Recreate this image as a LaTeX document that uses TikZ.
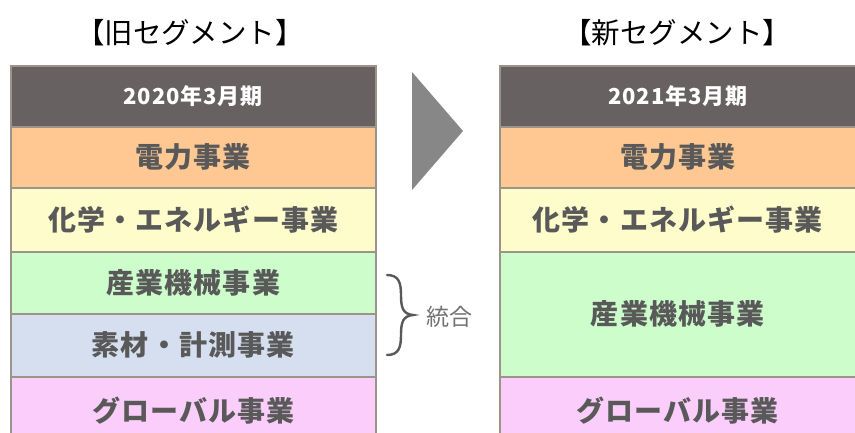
\documentclass[tikz,border=0pt]{standalone}
\usepackage{fontspec}
\newfontfamily\jp{Noto Sans CJK JP}
\newfontfamily\jphdr[LetterSpace=4]{Noto Sans CJK JP}
\newfontfamily\jpbody[LetterSpace=4]{Noto Sans CJK JP}
\definecolor{hdr}{HTML}{676261}
\definecolor{orng}{HTML}{FFC792}
\definecolor{yel}{HTML}{FFFCCC}
\definecolor{grn}{HTML}{CCFDCB}
\definecolor{blu}{HTML}{D5DFEF}
\definecolor{pnk}{HTML}{FBCDFB}
\definecolor{edge}{HTML}{9C9488}
\definecolor{txt}{HTML}{595959}
\tikzset{
  row/.style={draw=edge, line width=1.5pt, inner sep=0pt, anchor=north west,
    text=txt, font={\jpbody\bfseries\fontsize{28}{31}\selectfont}},
  hdrrow/.style={row, fill=hdr},
  hdrtext/.style={text=white, inner sep=0pt, font={\jphdr\bfseries\fontsize{22}{25}\selectfont}},
  title/.style={font={\jp\fontsize{28.5}{31}\selectfont}, text=black, inner sep=0pt},
}
\begin{document}
\begin{tikzpicture}[x=1pt,y=-1pt]
\useasboundingbox (0,0) rectangle (855,432);
\clip (0,0) rectangle (855,432);
\fill[white] (0,0) rectangle (855,432);
% titles
\node[title] (t1) at (190,33) {【旧セグメント】};
\node[title] (t2) at (677,33) {【新セグメント】};
% left table
\node[hdrrow, minimum width=365pt, minimum height=61pt] (l0) at (10,65) {};
\node[row, fill=orng, minimum width=365pt, minimum height=61pt] (l1) at (10,126) {};
\node[row, fill=yel, minimum width=365pt, minimum height=64pt] (l2) at (10,187) {};
\node[row, fill=grn, minimum width=365pt, minimum height=62pt] (l3) at (10,251) {};
\node[row, fill=blu, minimum width=365pt, minimum height=63pt] (l4) at (10,313) {};
\node[row, fill=pnk, minimum width=365pt, minimum height=62pt] (l5) at (10,376) {};
\node[hdrtext] at (l0.center) {2020年3月期};
\node[row, draw=none, anchor=center] at (l1.center) {電力事業};
\node[row, draw=none, anchor=center] at (l2.center) {化学・エネルギー事業};
\node[row, draw=none, anchor=center] at (l3.center) {産業機械事業};
\node[row, draw=none, anchor=center] at (l4.center) {素材・計測事業};
\node[row, draw=none, anchor=center, yshift=-3pt] at (l5.center) {グローバル事業};
% right table
\node[hdrrow, minimum width=358pt, minimum height=61pt] (r0) at (499,65) {};
\node[row, fill=orng, minimum width=358pt, minimum height=61pt] (r1) at (499,126) {};
\node[row, fill=yel, minimum width=358pt, minimum height=64pt] (r2) at (499,187) {};
\node[row, fill=grn, minimum width=358pt, minimum height=125pt] (r3) at (499,251) {};
\node[row, fill=pnk, minimum width=358pt, minimum height=62pt] (r5) at (499,376) {};
\node[hdrtext] at ([xshift=-1pt]r0.center) {2021年3月期};
\node[row, draw=none, anchor=center] at ([xshift=-1pt]r1.center) {電力事業};
\node[row, draw=none, anchor=center] at ([xshift=-1pt]r2.center) {化学・エネルギー事業};
\node[row, draw=none, anchor=center] at ([xshift=-1pt]r3.center) {産業機械事業};
\node[row, draw=none, anchor=center, yshift=-3pt] at ([xshift=-1pt]r5.center) {グローバル事業};
% arrow
\fill[gray!95!black!90] (412,72) -- (463,131) -- (412,190) -- cycle;
% brace
\draw[txt, line width=2.4pt, line cap=round]
  (387,275) .. controls (399,275) and (401,283) .. (401,295)
  .. controls (401,308) and (403,314) .. (413,315)
  .. controls (403,316) and (401,322) .. (401,335)
  .. controls (401,347) and (399,355) .. (387,355);
\node[font={\jp\fontsize{23}{25}\selectfont}, text=txt!85, inner sep=0pt] (merge) at (449,317) {統合};
\end{tikzpicture}
\end{document}
